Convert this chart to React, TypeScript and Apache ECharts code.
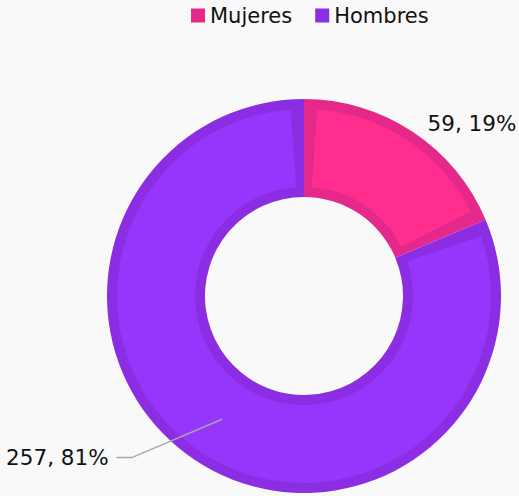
import React, { useEffect, useRef } from "react";
import * as echarts from "echarts";

const categories = ["Mujeres", "Hombres"];
const values = [59, 257];
const fillColors = ["#FF2E8E", "#9436FB"];
const edgeColors = ["#E5298A", "#8B2DE3"];

export default function App() {
  const ref = useRef<HTMLDivElement>(null);

  useEffect(() => {
    if (!ref.current) return;
    const chart = echarts.init(ref.current, null, { renderer: "svg" });
    const font = "'DejaVu Sans', Verdana, sans-serif";
    const center = [304, 296];

    const baseData = categories.map((name, i) => ({
      name,
      value: values[i],
      itemStyle: { color: edgeColors[i] },
    }));
    const fillData = categories.map((name, i) => ({
      name,
      value: values[i],
      itemStyle: { color: fillColors[i] },
    }));
    const labelCfg = [
      { labelLine: { show: false, length: 59, length2: 1 } },
      { labelLine: { show: true, length: 46, length2: 80 } },
    ];
    const labelData = categories.map((name, i) => ({
      name,
      value: values[i],
      ...labelCfg[i],
    }));

    chart.setOption({
      animation: false,
      backgroundColor: "#f9f9f9",
      legend: {
        data: categories,
        left: 186,
        top: 0,
        padding: 5,
        itemWidth: 14,
        itemHeight: 14,
        itemGap: 23,
        icon: "rect",
        textStyle: { fontFamily: font, fontSize: 21, color: "#111" },
      },
      series: [
        {
          type: "pie",
          center,
          radius: [99, 197],
          startAngle: 90,
          clockwise: true,
          silent: true,
          z: 1,
          label: { show: false },
          labelLine: { show: false },
          emphasis: { disabled: true },
          data: baseData,
        },
        {
          type: "pie",
          center,
          radius: [109, 187],
          startAngle: 90,
          clockwise: true,
          padAngle: 8.2,
          silent: true,
          z: 2,
          label: { show: false },
          labelLine: { show: false },
          emphasis: { disabled: true },
          data: fillData,
        },
        {
          type: "pie",
          center,
          radius: [99, 148],
          startAngle: 90,
          clockwise: true,
          silent: true,
          z: 5,
          percentPrecision: 0,
          itemStyle: { color: "rgba(0,0,0,0)" },
          emphasis: { disabled: true },
          label: {
            show: true,
            position: "outside",
            formatter: "{c}, {d}%",
            fontFamily: font,
            fontSize: 21.5,
            color: "#111",
            distanceToLabelLine: 8,
            edgeDistance: 0,
            overflow: "none",
          },
          labelLine: {
            show: true,
            minTurnAngle: 157,
            lineStyle: { color: "#a8a8a8", width: 1.5 },
          },
          data: labelData,
        },
      ],
    });

    return () => {
      chart.dispose();
    };
  }, []);

  return (
    <div
      ref={ref}
      style={{ position: "absolute", left: 0, top: 0, width: 519, height: 496 }}
    />
  );
}
